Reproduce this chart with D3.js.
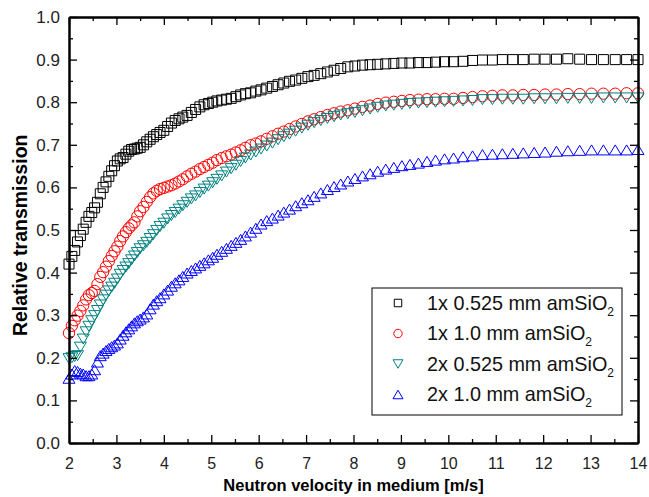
<!DOCTYPE html>
<html>
<head>
<meta charset="utf-8">
<script src="https://cdn.jsdelivr.net/npm/d3@7"></script>
<style>
  body { margin: 0; background: #fff; }
  text { font-family: "Liberation Sans", Arial, sans-serif; }
</style>
</head>
<body>
<svg id="chart" width="649" height="497"></svg>
<script>
// neutron velocity in medium [m/s], shared by all four measurements
const velocity = [
  2.00, 2.06, 2.12, 2.18, 2.24, 2.30, 2.36, 2.42, 2.48, 2.54,
  2.60, 2.66, 2.72, 2.78, 2.84, 2.90, 2.96, 3.02, 3.08, 3.14,
  3.20, 3.26, 3.32, 3.38, 3.44, 3.50, 3.57, 3.64, 3.71, 3.78,
  3.85, 3.92, 4.00, 4.08, 4.16, 4.24, 4.32, 4.40, 4.49, 4.58,
  4.67, 4.76, 4.85, 4.94, 5.03, 5.12, 5.22, 5.32, 5.42, 5.52,
  5.62, 5.72, 5.83, 5.94, 6.05, 6.17, 6.29, 6.41, 6.53, 6.65,
  6.78, 6.91, 7.04, 7.17, 7.31, 7.45, 7.59, 7.73, 7.88, 8.03,
  8.19, 8.35, 8.51, 8.68, 8.85, 9.02, 9.19, 9.37, 9.55, 9.73,
  9.92, 10.11, 10.31, 10.51, 10.72, 10.93, 11.14, 11.36, 11.58, 11.81,
  12.04, 12.28, 12.52, 12.77, 13.02, 13.27, 13.52, 13.76, 14.00
];

const single525 = [
  .420, .438, .452, .472, .487, .502, .518, .532, .541, .552,
  .565, .585, .600, .613, .626, .639, .651, .662, .667, .670,
  .678, .685, .689, .690, .692, .694, .700, .707, .713, .719,
  .724, .729, .734, .743, .751, .757, .761, .765, .769, .776,
  .783, .789, .794, .797, .800, .803, .805, .807, .809, .813,
  .817, .820, .822, .826, .829, .833, .837, .841, .845, .849,
  .852, .856, .860, .863, .867, .871, .875, .879, .883, .885,
  .887, .888, .889, .890, .891, .892, .892, .893, .893, .894,
  .895, .895, .896, .898, .899, .899, .900, .900, .900, .901,
  .901, .901, .902, .901, .900, .900, .900, .900, .900
];

const single10 = [
  .258, .275, .288, .299, .310, .323, .337, .347, .352, .357,
  .373, .390, .401, .414, .427, .439, .450, .461, .474, .485,
  .495, .504, .511, .518, .532, .544, .554, .566, .577, .586,
  .592, .596, .599, .602, .605, .609, .614, .619, .626, .632,
  .637, .643, .648, .653, .658, .664, .669, .673, .677, .682,
  .687, .693, .699, .703, .708, .714, .720, .726, .731, .737,
  .743, .749, .755, .760, .765, .770, .774, .778, .781, .785,
  .789, .792, .796, .799, .801, .803, .805, .806, .807, .807,
  .808, .808, .810, .812, .814, .815, .816, .816, .817, .817,
  .818, .818, .819, .819, .820, .820, .820, .821, .821
];

const double525 = [
  .198, .200, .203, .205, .225, .244, .261, .274, .287, .299,
  .311, .324, .336, .347, .357, .366, .375, .385, .396, .405,
  .413, .421, .430, .439, .447, .456, .463, .471, .480, .489,
  .499, .508, .516, .526, .534, .541, .549, .557, .565, .573,
  .580, .588, .596, .603, .611, .619, .627, .636, .644, .652,
  .661, .669, .676, .683, .690, .697, .704, .712, .719, .725,
  .732, .739, .746, .752, .757, .762, .766, .770, .773, .776,
  .780, .784, .788, .791, .793, .795, .797, .798, .799, .800,
  .801, .802, .803, .804, .806, .806, .807, .807, .807, .808,
  .808, .808, .809, .809, .809, .810, .810, .810, .810
];

const double10 = [
  .152, .162, .170, .168, .164, .162, .158, .158, .162, .172,
  .190, .205, .211, .217, .222, .226, .230, .235, .244, .253,
  .261, .268, .275, .282, .287, .291, .296, .303, .315, .326,
  .334, .341, .350, .359, .368, .376, .383, .391, .399, .405,
  .411, .417, .423, .430, .436, .443, .450, .457, .464, .471,
  .478, .486, .495, .504, .514, .522, .528, .535, .542, .549,
  .557, .564, .571, .579, .587, .595, .602, .608, .615, .621,
  .627, .632, .638, .643, .647, .651, .654, .657, .661, .664,
  .667, .669, .672, .674, .677, .678, .679, .680, .681, .682,
  .683, .685, .686, .687, .688, .688, .688, .688, .689
];

const legendLabels = ['1x 0.525 mm amSiO', '1x 1.0 mm amSiO', '2x 0.525 mm amSiO', '2x 1.0 mm amSiO'];
const xTicks = [2, 3, 4, 5, 6, 7, 8, 9, 10, 11, 12, 13, 14];
const yTicks = [0, 0.1, 0.2, 0.3, 0.4, 0.5, 0.6, 0.7, 0.8, 0.9, 1.0];
const xMinor = d3.range(2.5, 14, 1);
const yMinor = d3.range(0.05, 1, 0.1);

// open triangles, pointing up or down, drawn in a w x h box
function triangle(w, h, down) {
  return {
    draw(ctx) {
      const s = down ? -1 : 1;
      ctx.moveTo(0, -s * h / 2);
      ctx.lineTo(w / 2, s * h / 2);
      ctx.lineTo(-w / 2, s * h / 2);
      ctx.closePath();
    }
  };
}

const series = [
  { values: single525, color: '#000000', sym: d3.symbolSquare, size: 100, legSize: 56 },
  { values: single10, color: '#ff0000', sym: d3.symbolCircle, size: 100, legSize: 56 },
  { values: double525, color: '#008080', sym: triangle(12, 10, true), legSym: triangle(10, 8.5, true) },
  { values: double10, color: '#0000ff', sym: triangle(12, 10, false), legSym: triangle(10, 8.5, false) }
];

const svg = d3.select('#chart');
const margin = { top: 17, right: 11, bottom: 54, left: 69 };
const width = +svg.attr('width');
const height = +svg.attr('height');
const innerWidth = width - margin.left - margin.right;
const innerHeight = height - margin.top - margin.bottom;

const x = d3.scaleLinear().domain([2, 14]).range([0, innerWidth]);
const y = d3.scaleLinear().domain([0, 1]).range([innerHeight, 0]);

const g = svg.append('g').attr('transform', `translate(${margin.left},${margin.top})`);

// data markers
series.forEach(s => {
  g.append('g')
    .selectAll('path')
    .data(velocity.map((v, i) => [v, s.values[i]]))
    .join('path')
    .attr('transform', d => `translate(${x(d[0])},${y(d[1])})`)
    .attr('d', d3.symbol(s.sym, s.size || 64))
    .attr('fill', 'none')
    .attr('stroke', s.color)
    .attr('stroke-width', 1);
});

// axes: ticks point inwards on all four sides
function styleAxis(sel, fontSize) {
  sel.select('.domain').attr('stroke-width', 2);
  sel.selectAll('.tick line').attr('stroke-width', 1.3);
  if (fontSize) sel.selectAll('text').style('font-size', fontSize).attr('fill', '#222');
  else sel.selectAll('text').remove();
}

g.append('g')
  .attr('transform', `translate(0,${innerHeight})`)
  .call(d3.axisBottom(x).tickValues(xTicks).tickSize(-8).tickSizeOuter(0).tickPadding(15).tickFormat(d3.format('d')))
  .call(styleAxis, '16px');
g.append('g')
  .attr('transform', `translate(0,${innerHeight})`)
  .call(d3.axisBottom(x).tickValues(xMinor).tickSize(-4).tickSizeOuter(0))
  .call(styleAxis);

g.append('g')
  .call(d3.axisTop(x).tickValues(xTicks).tickSize(-8).tickSizeOuter(0))
  .call(styleAxis);
g.append('g')
  .call(d3.axisTop(x).tickValues(xMinor).tickSize(-4).tickSizeOuter(0))
  .call(styleAxis);

g.append('g')
  .call(d3.axisLeft(y).tickValues(yTicks).tickSize(-8).tickSizeOuter(0).tickPadding(9).tickFormat(d3.format('.1f')))
  .call(styleAxis, '17px');
g.append('g')
  .call(d3.axisLeft(y).tickValues(yMinor).tickSize(-4).tickSizeOuter(0))
  .call(styleAxis);

g.append('g')
  .attr('transform', `translate(${innerWidth},0)`)
  .call(d3.axisRight(y).tickValues(yTicks).tickSize(-8).tickSizeOuter(0))
  .call(styleAxis);
g.append('g')
  .attr('transform', `translate(${innerWidth},0)`)
  .call(d3.axisRight(y).tickValues(yMinor).tickSize(-4).tickSizeOuter(0))
  .call(styleAxis);

// axis titles
svg.append('text')
  .attr('x', margin.left + innerWidth / 2)
  .attr('y', 491)
  .attr('text-anchor', 'middle')
  .style('font-size', '16.5px')
  .style('font-weight', 'bold')
  .text('Neutron velocity in medium [m/s]');

svg.append('text')
  .attr('transform', `translate(27,${y(0.4875) + margin.top}) rotate(-90)`)
  .attr('text-anchor', 'middle')
  .style('font-size', '19.5px')
  .style('font-weight', 'bold')
  .text('Relative transmission');

// legend
const legend = svg.append('g').attr('transform', 'translate(372,288)');
legend.append('rect')
  .attr('width', 250)
  .attr('height', 127)
  .attr('fill', '#fff')
  .attr('stroke', '#000')
  .attr('stroke-width', 1);

series.forEach((s, i) => {
  const row = legend.append('g').attr('transform', `translate(0,${15 + i * 30.5})`);
  row.append('path')
    .attr('transform', 'translate(26,0)')
    .attr('d', d3.symbol(s.legSym || s.sym, s.legSize || 49))
    .attr('fill', 'none')
    .attr('stroke', s.color)
    .attr('stroke-width', 1);
  const t = row.append('text')
    .attr('x', 55)
    .attr('y', 6.5)
    .style('font-size', '19.8px')
    .attr('fill', '#111');
  t.append('tspan').text(legendLabels[i]);
  t.append('tspan').attr('dy', 6).style('font-size', '12px').text('2');
});
</script>
</body>
</html>
